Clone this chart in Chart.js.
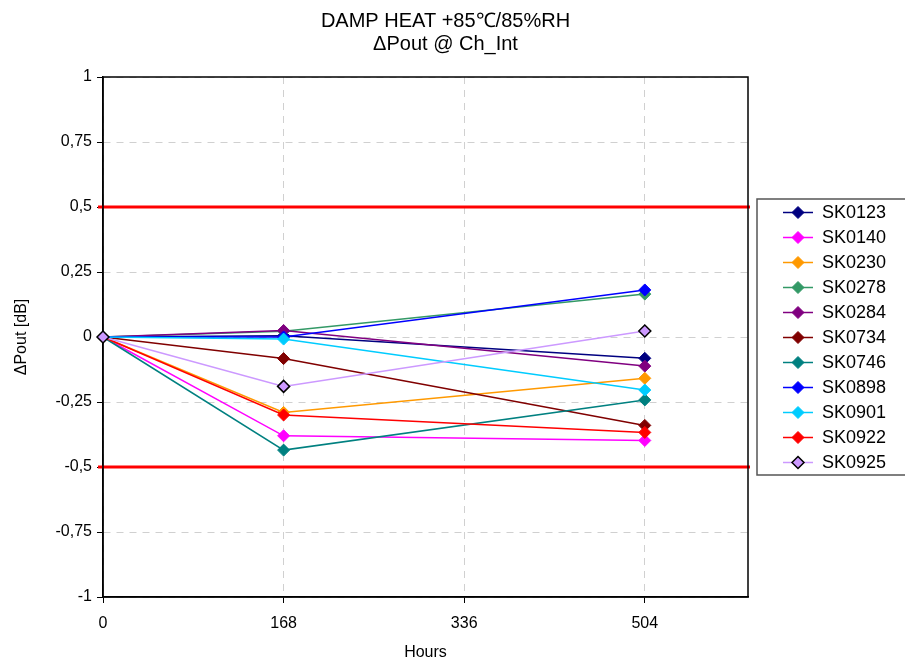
<!DOCTYPE html>
<html>
<head>
<meta charset="utf-8">
<title>DAMP HEAT +85℃/85%RH</title>
<script src="https://cdn.jsdelivr.net/npm/chart.js@4.4.1/dist/chart.umd.min.js"></script>
<style>
    body { margin: 0; background: #fff; }
    #wrap { width: 905px; height: 664px; position: relative; }
</style>
</head>
<body>
<div id="wrap"><canvas id="chart"></canvas></div>
<script>
// test hours
const hours = [0, 168, 504];
const xTicks = [0, 168, 336, 504];
const yLimits = [0.5, -0.5];

const names = ["SK0123", "SK0140", "SK0230", "SK0278", "SK0284", "SK0734",
    "SK0746", "SK0898", "SK0901", "SK0922", "SK0925"];

const sk0123 = [0, 0.005, -0.082];
const sk0140 = [0, -0.38, -0.398];
const sk0230 = [0, -0.29, -0.159];
const sk0278 = [0, 0.022, 0.165];
const sk0284 = [0, 0.025, -0.112];
const sk0734 = [0, -0.083, -0.34];
const sk0746 = [0, -0.435, -0.242];
const sk0898 = [0, 0.0, 0.181];
const sk0901 = [0, -0.008, -0.204];
const sk0922 = [0, -0.30, -0.367];
const sk0925 = [0, -0.19, 0.023];

const values = [sk0123, sk0140, sk0230, sk0278, sk0284, sk0734,
    sk0746, sk0898, sk0901, sk0922, sk0925];

const colors = ["#000080", "#FF00FF", "#FF9900", "#339966", "#800080", "#800000",
    "#008080", "#0000FF", "#00CCFF", "#FF0000", "#CC99FF"];

const FONT = "'Liberation Sans', Arial, sans-serif";

var datasets = names.map(function (name, i) {
    var isLast = name === "SK0925";
    return {
        label: name,
        data: values[i].map(function (v, j) { return { x: hours[j], y: v }; }),
        borderColor: colors[i],
        backgroundColor: colors[i],
        pointBackgroundColor: colors[i],
        pointBorderColor: isLast ? "#000000" : colors[i],
        pointBorderWidth: isLast ? 1.5 : 1,
        borderWidth: 1.5,
        pointStyle: "rectRot",
        pointRadius: 6,
        pointHoverRadius: 6,
        order: names.length - i,
        clip: false,
        tension: 0,
    };
});

// red limits + plot frame + legend box
const extras = {
    id: "extras",
    beforeDatasetsDraw: function (chart) {
        var ctx = chart.ctx;
        var a = chart.chartArea;
        var y = chart.scales.y;
        ctx.save();
        ctx.strokeStyle = "#FF0000";
        ctx.lineWidth = 3;
        yLimits.forEach(function (v) {
            var py = y.getPixelForValue(v);
            ctx.beginPath();
            ctx.moveTo(a.left - 5, py);
            ctx.lineTo(a.right + 2, py);
            ctx.stroke();
        });
        ctx.strokeStyle = "#000000";
        ctx.lineWidth = 1.5;
        ctx.strokeRect(a.left, a.top, a.right - a.left, a.bottom - a.top);
        ctx.restore();
    },
    afterDraw: function (chart) {
        var ctx = chart.ctx;
        var bx = 757, by = 199, bw = 150, bh = 276;
        ctx.save();
        ctx.strokeStyle = "#555555";
        ctx.lineWidth = 1.5;
        ctx.strokeRect(bx, by, bw, bh);
        ctx.font = "18px " + FONT;
        ctx.textBaseline = "middle";
        ctx.textAlign = "left";
        chart.data.datasets.forEach(function (ds, i) {
            var cy = 212.5 + i * 25;
            ctx.strokeStyle = ds.borderColor;
            ctx.lineWidth = 1.5;
            ctx.beginPath();
            ctx.moveTo(783, cy);
            ctx.lineTo(813, cy);
            ctx.stroke();
            ctx.beginPath();
            ctx.moveTo(798, cy - 6);
            ctx.lineTo(804, cy);
            ctx.lineTo(798, cy + 6);
            ctx.lineTo(792, cy);
            ctx.closePath();
            ctx.fillStyle = ds.pointBackgroundColor;
            ctx.fill();
            ctx.strokeStyle = ds.pointBorderColor;
            ctx.lineWidth = ds.pointBorderWidth;
            ctx.stroke();
            ctx.fillStyle = "#000000";
            ctx.fillText(ds.label, 822, cy + 1);
        });
        ctx.restore();
    },
};

var ctx = document.getElementById("chart").getContext("2d");
var myChart = new Chart(ctx, {
    type: "line",
    data: { datasets: datasets },
    plugins: [extras],
    options: {
        responsive: true,
        maintainAspectRatio: false,
        animation: false,
        layout: { padding: { left: 0, right: 14, top: 0, bottom: 0 } },
        plugins: {
            legend: { display: false },
            tooltip: { enabled: false },
            title: {
                display: true,
                text: ["DAMP HEAT +85℃/85%RH", "ΔPout @ Ch_Int"],
                color: "#000000",
                font: { family: FONT, size: 20, weight: "normal", lineHeight: 1.15 },
                padding: { top: 10, bottom: 21 },
            },
        },
        scales: {
            x: {
                type: "linear",
                min: 0,
                max: 600,
                afterBuildTicks: function (scale) {
                    scale.ticks = xTicks.map(function (v) { return { value: v }; });
                },
                afterFit: function (scale) { scale.height = 67; },
                grid: {
                    color: "#D0D0D0",
                    tickColor: "#000000",
                    tickBorderDash: [],
                    tickLength: 6,
                },
                border: { color: "#000000", width: 1.5, dash: [7, 6] },
                ticks: {
                    color: "#000000",
                    font: { family: FONT, size: 16 },
                    padding: 11,
                    maxRotation: 0,
                },
                title: {
                    display: true,
                    text: "Hours",
                    color: "#000000",
                    font: { family: FONT, size: 16 },
                    padding: { top: 0, bottom: 2 },
                },
            },
            y: {
                min: -1,
                max: 1,
                afterFit: function (scale) { scale.width = 103; },
                grid: {
                    color: "#D0D0D0",
                    tickColor: "#000000",
                    tickBorderDash: [],
                    tickLength: 6,
                },
                border: { color: "#000000", width: 1.5, dash: [7, 6] },
                ticks: {
                    stepSize: 0.25,
                    color: "#000000",
                    font: { family: FONT, size: 16 },
                    padding: 5,
                    callback: function (v) { return String(v).replace(".", ","); },
                },
                title: {
                    display: true,
                    text: "ΔPout [dB]",
                    color: "#000000",
                    font: { family: FONT, size: 16 },
                    padding: { top: 12, bottom: 0 },
                },
            },
            // empty axis that keeps room for the legend on the right
            side: {
                type: "linear",
                position: "right",
                display: true,
                afterFit: function (scale) { scale.width = 143; },
                grid: { display: false, drawTicks: false },
                border: { display: false },
                ticks: { display: false },
            },
        },
    },
});
</script>
</body>
</html>
